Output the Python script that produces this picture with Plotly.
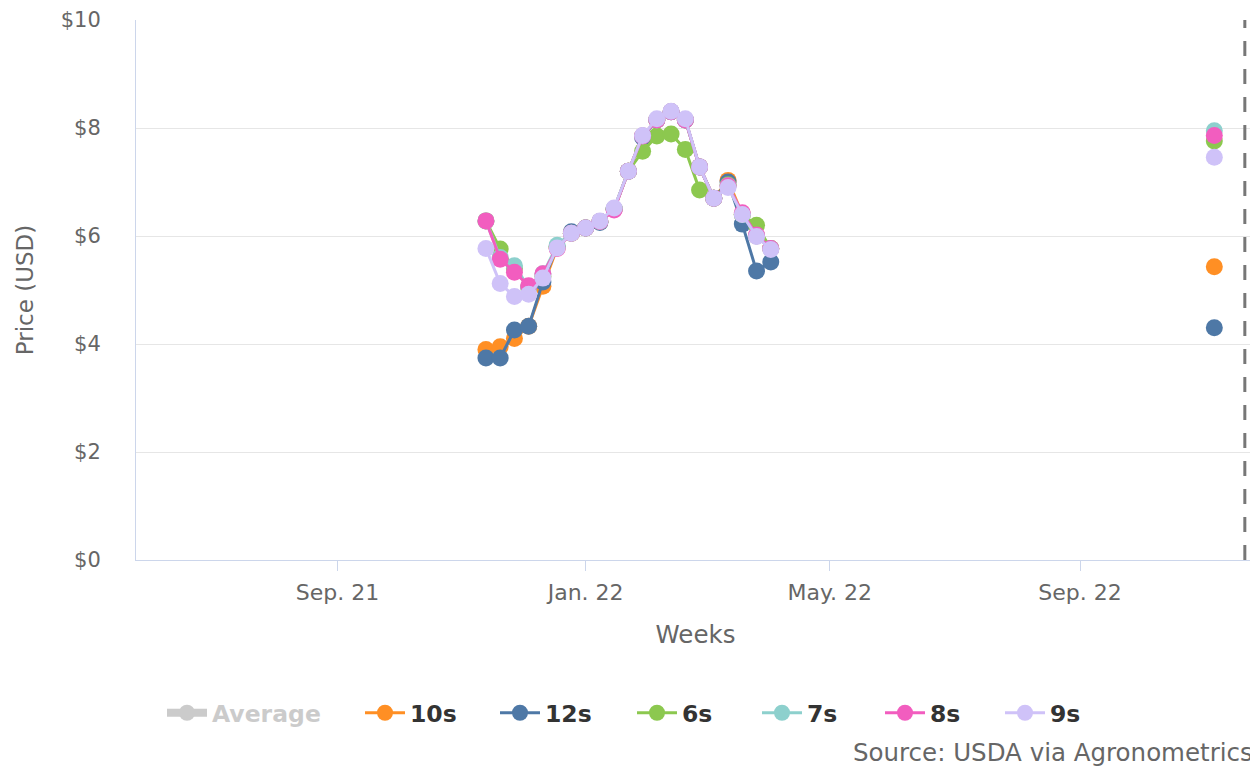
import plotly.graph_objects as go

dates = ["2021-11-13", "2021-11-20", "2021-11-27", "2021-12-04", "2021-12-11", "2021-12-18",
         "2021-12-25", "2022-01-01", "2022-01-08", "2022-01-15", "2022-01-22", "2022-01-29",
         "2022-02-05", "2022-02-12", "2022-02-19", "2022-02-26", "2022-03-05", "2022-03-12",
         "2022-03-19", "2022-03-26", "2022-04-02"]
latest_date = "2022-11-06"
today_date = "2022-11-21"

series_names = ["10s", "12s", "6s", "7s", "8s", "9s"]
s10 = [3.90, 3.95, 4.10, 4.33, 5.07, 5.78, 6.05, 6.15, 6.27, 6.50, 7.20, 7.85, 8.15, 8.30, 8.15, 7.28, 6.70, 7.03, 6.40, 6.00, 5.77]
s12 = [3.74, 3.74, 4.26, 4.33, 5.15, 5.80, 6.08, 6.15, 6.25, 6.50, 7.20, 7.83, 8.15, 8.30, 8.15, 7.28, 6.70, 7.00, 6.22, 5.35, 5.52]
s6 = [6.28, 5.76, 5.40, 5.05, 5.25, 5.80, 6.05, 6.15, 6.27, 6.50, 7.20, 7.57, 7.85, 7.89, 7.60, 6.85, 6.70, 6.95, 6.40, 6.20, 5.77]
s7 = [6.28, 5.60, 5.45, 5.05, 5.30, 5.83, 6.05, 6.15, 6.27, 6.50, 7.20, 7.85, 8.15, 8.30, 8.15, 7.28, 6.70, 6.93, 6.40, 6.00, 5.77]
s8 = [6.28, 5.57, 5.33, 5.08, 5.30, 5.77, 6.05, 6.15, 6.27, 6.48, 7.20, 7.85, 8.15, 8.30, 8.15, 7.28, 6.70, 6.93, 6.43, 6.02, 5.77]
s9 = [5.77, 5.12, 4.88, 4.92, 5.22, 5.78, 6.05, 6.15, 6.28, 6.52, 7.20, 7.86, 8.17, 8.31, 8.17, 7.28, 6.70, 6.90, 6.40, 5.99, 5.75]
latest = [5.43, 4.30, 7.76, 7.95, 7.86, 7.46]

colors = ["#FF8F24", "#4E78A6", "#8CC84F", "#8DD0CD", "#F25DBF", "#CFC2F8"]
values = [s10, s12, s6, s7, s8, s9]

tick_vals = ["2021-09-01", "2022-01-01", "2022-05-01", "2022-09-01"]
tick_text = ["Sep. 21", "Jan. 22", "May. 22", "Sep. 22"]

FONT = "DejaVu Sans"
W, H = 1250, 761  # page has an 8px body margin
legend_x_px = [159, 357, 492, 629, 754, 877, 997]  # symbol starts in figure px
legend_y = 1 - 705 / H

fig = go.Figure()

fig.add_trace(go.Scatter(x=[dates[0]], y=[None], name="Average", mode="lines+markers",
                         visible="legendonly", legend="legend",
                         line=dict(color="#999999", width=8),
                         marker=dict(size=17, color="#999999")))

for i, (name, vals, col, last) in enumerate(zip(series_names, values, colors, latest)):
    lg = "legend%d" % (i + 2)
    fig.add_trace(go.Scatter(x=dates, y=vals, name=name, mode="lines+markers",
                             legendgroup=name, legend=lg,
                             line=dict(color=col, width=3),
                             marker=dict(size=17, color=col)))
    fig.add_trace(go.Scatter(x=[latest_date], y=[last], name=name, mode="markers",
                             legendgroup=name, showlegend=False, legend=lg,
                             marker=dict(size=17, color=col)))

fig.add_shape(type="line", xref="x", yref="paper", x0=today_date, x1=today_date,
              y0=0, y1=1, line=dict(color="#777777", width=3, dash="15px,13px"))

fig.add_annotation(text="Source: USDA via Agronometrics", xref="paper", yref="paper",
                   x=1.0, y=-0.3556, xanchor="right", yanchor="middle", showarrow=False,
                   font=dict(family=FONT, size=24.5, color="#666666"))

legend_common = dict(orientation="h", xref="container", yref="container",
                     xanchor="left", y=legend_y, yanchor="middle",
                     bgcolor="rgba(0,0,0,0)", borderwidth=0,
                     font=dict(family=FONT, size=23.5, color="#333333", weight="bold"),
                     itemwidth=40)
legends = {}
for i, px in enumerate(legend_x_px):
    key = "legend" if i == 0 else "legend%d" % (i + 1)
    legends[key] = dict(legend_common, x=(px - 5) / W)
legends["legend"]["font"] = dict(family=FONT, size=23.5, color="#999999", weight="bold")

fig.update_layout(
    width=W, height=H,
    margin=dict(l=128, r=3, t=12, b=209),
    paper_bgcolor="white", plot_bgcolor="white",
    font=dict(family=FONT, color="#666666"),
    showlegend=True,
    xaxis=dict(type="date", range=["2021-05-25", "2022-11-26"],
               tickvals=tick_vals, ticktext=tick_text,
               showgrid=False, showline=True, linecolor="#ccd6eb", linewidth=1,
               ticks="outside", ticklen=10, tickcolor="#ccd6eb",
               ticklabelstandoff=3,
               tickfont=dict(family=FONT, size=22, color="#666666"),
               title=dict(text="Weeks", font=dict(family=FONT, size=24.5, color="#666666"), standoff=21),
               zeroline=False, automargin=False),
    yaxis=dict(range=[0, 10], dtick=2, tickprefix="$",
               showgrid=True, gridcolor="#e6e6e6", gridwidth=1,
               showline=True, linecolor="#ccd6eb", linewidth=1,
               tickfont=dict(family=FONT, size=21, color="#666666"),
               ticks="", ticklabelstandoff=30,
               title=dict(text="Price (USD)", font=dict(family=FONT, size=23, color="#666666"), standoff=20),
               zeroline=False, automargin=False),
    **legends,
)

fig.write_html("out.html")
